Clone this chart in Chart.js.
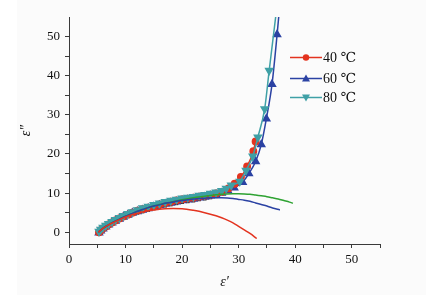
<!DOCTYPE html>
<html><head><meta charset="utf-8">
<script src="https://cdn.jsdelivr.net/npm/chart.js@4/dist/chart.umd.min.js"></script>
<style>html,body{margin:0;padding:0;background:#fff}canvas{display:block}</style>
</head><body>
<canvas id="c" width="426" height="295"></canvas>
<script>
// ---- data ----
const legendLabels = ['40 ℃', '60 ℃', '80 ℃'];
const xTickValues = [0,5,10,15,20,25,30,35,40,45,50,55];
const yTickValues = [0,5,10,15,20,25,30,35,40,45,50];

const eps1_40 = [5.3,5.6,6.0,6.5,7.0,7.6,8.2,8.9,9.6,10.4,11.2,12.1,13.0,14.0,15.0,16.0,17.0,18.0,19.0,20.0,21.0,22.0,23.0,24.0,25.0,26.0,27.0,28.2,29.3,30.4,31.5,32.6,33.0];
const eps2_40 = [0.0,0.5,1.0,1.5,2.0,2.5,3.0,3.5,4.0,4.5,5.0,5.5,5.9,6.3,6.7,7.1,7.5,7.8,8.1,8.4,8.6,8.8,9.1,9.3,9.6,9.9,10.3,11.2,12.4,14.1,16.8,20.7,23.2];

const eps1_60 = [5.3,5.6,6.0,6.5,7.0,7.6,8.2,8.9,9.6,10.4,11.2,12.1,13.0,14.0,15.0,16.0,17.0,18.0,19.0,20.0,21.0,22.0,23.0,24.0,25.0,26.0,27.0,28.1,29.2,30.7,31.8,33.0,34.0,34.9,35.9,36.8,37.4];
const eps2_60 = [-0.1,0.4,0.9,1.4,1.9,2.4,2.9,3.4,3.9,4.4,4.9,5.3,5.7,6.1,6.5,6.9,7.2,7.5,7.8,8.1,8.3,8.5,8.8,9.0,9.3,9.6,10.0,10.6,11.4,12.8,15.0,18.1,22.4,29.0,37.8,50.5,60.0];

const eps1_80 = [5.3,5.6,6.0,6.5,7.0,7.6,8.2,8.9,9.6,10.4,11.2,12.1,13.0,14.0,15.0,16.0,17.0,18.0,19.0,20.0,21.0,22.0,23.0,24.0,25.0,26.0,27.0,27.8,28.7,30.2,31.3,32.5,33.4,34.6,35.4,36.8];
const eps2_80 = [0.2,0.7,1.2,1.7,2.2,2.7,3.2,3.7,4.2,4.7,5.2,5.7,6.2,6.6,7.0,7.4,7.8,8.1,8.4,8.7,8.9,9.1,9.4,9.6,9.9,10.2,10.6,11.2,12.0,13.0,15.8,19.4,24.3,31.5,41.3,58.0];

const eps1_extra = [12,13,14,15,16,17,18,19,20,21,22,23,24,25,26];
const eps2_extra = [4.9,5.3,5.7,6.1,6.5,6.8,7.1,7.4,7.7,7.9,8.1,8.4,8.6,8.9,9.2];

const fit1_40 = [5.2,6,7,8,9,10,11,12,13,14,15,16,17,18.4,20,22,24,26,27,28,29,30,31,32,33.2];
const fit2_40 = [0,1.0,1.9,2.6,3.3,3.9,4.4,4.8,5.2,5.5,5.7,5.9,6.0,6.05,6.0,5.6,5.0,4.2,3.7,3.1,2.4,1.5,0.6,-0.3,-1.6];

const fit1_60 = [5.2,6,7,8,9,10,11,12,13,14,15,16,17,18,19,20,21,22,23,24,25,26,27,28,29,30,31,32,33,34,35,36,37.3];
const fit2_60 = [0,1.0,1.9,2.7,3.4,4.1,4.7,5.3,5.8,6.3,6.7,7.0,7.4,7.6,7.9,8.1,8.3,8.5,8.6,8.7,8.8,8.8,8.8,8.75,8.6,8.4,8.2,7.9,7.5,7.1,6.7,6.2,5.7];

const fit1_80 = [5.2,6,7,8,9,10,11,12,13,14,15,16,17,18,19,20,22,24,26,27,28,29,30,31,32,33,34,35,36,37,38,39,39.6];
const fit2_80 = [0,1.0,1.9,2.7,3.4,4.1,4.7,5.3,5.8,6.3,6.7,7.1,7.4,7.7,8.0,8.3,8.8,9.2,9.6,9.7,9.8,9.85,9.85,9.8,9.7,9.5,9.3,9.1,8.8,8.5,8.1,7.7,7.4];

// ---- colours / styles ----
const RED = '#e3331f', BLUE = '#2b42a3', TEAL = '#3fa0a6', GREEN = '#2ea232';
const toXY = (xs, ys) => xs.map((x, i) => ({x, y: ys[i]}));
const SERIF = "'Liberation Serif','DejaVu Serif',serif";

const fitStyle = c => ({borderColor: c, backgroundColor: c, borderWidth: 1.5, pointRadius: 0, cubicInterpolationMode: 'monotone', showLine: true});

const datasets = [
  Object.assign({label: 'fit40', data: toXY(fit1_40, fit2_40)}, fitStyle(RED)),
  Object.assign({label: 'fit60', data: toXY(fit1_60, fit2_60)}, fitStyle(BLUE)),
  Object.assign({label: 'fit80', data: toXY(fit1_80, fit2_80)}, fitStyle(GREEN)),
  {label: legendLabels[2], data: toXY(eps1_80, eps2_80), borderColor: TEAL, backgroundColor: TEAL, borderWidth: 1.5,
   pointStyle: 'triangle', rotation: 180, pointRadius: 4, showLine: true, cubicInterpolationMode: 'monotone'},
  {label: legendLabels[0], data: toXY(eps1_40, eps2_40), borderColor: RED, backgroundColor: RED, borderWidth: 1.5,
   pointStyle: 'circle', pointRadius: 3.2, showLine: true, cubicInterpolationMode: 'monotone'},
  {label: legendLabels[1], data: toXY(eps1_60, eps2_60), borderColor: BLUE, backgroundColor: BLUE, borderWidth: 1.5,
   pointStyle: 'triangle', pointRadius: 4, showLine: true, cubicInterpolationMode: 'monotone'},
  {label: 'extra', data: toXY(eps1_extra, eps2_extra), borderColor: '#111', backgroundColor: '#111', borderWidth: 0,
   pointStyle: 'rect', pointRadius: 2.6, showLine: false}
];

const bgPlugin = {
  id: 'bg',
  beforeDraw(chart) {
    const ctx = chart.ctx;
    ctx.save();
    ctx.fillStyle = '#ffffff';
    ctx.fillRect(0, 0, chart.width, chart.height);
    ctx.fillStyle = '#fbfbfb';
    ctx.fillRect(17, 0, chart.width - 17, chart.height);
    ctx.restore();
  }
};

const legendRows = [
  {label: legendLabels[0], color: RED, style: 'circle'},
  {label: legendLabels[1], color: BLUE, style: 'tri'},
  {label: legendLabels[2], color: TEAL, style: 'tridown'}
];
const legendPlugin = {
  id: 'customLegend',
  afterDatasetsDraw(chart) {
    const ctx = chart.ctx;
    const x0 = 290, x1 = 322, ys = [57.5, 78.5, 97.5];
    ctx.save();
    legendRows.forEach((r, i) => {
      const y = ys[i];
      ctx.strokeStyle = r.color; ctx.fillStyle = r.color; ctx.lineWidth = 1.5;
      ctx.beginPath(); ctx.moveTo(x0, y); ctx.lineTo(x1, y); ctx.stroke();
      const cx = (x0 + x1) / 2;
      ctx.beginPath();
      if (r.style === 'circle') { ctx.arc(cx, y, 3.2, 0, Math.PI * 2); }
      else if (r.style === 'tri') { ctx.moveTo(cx, y - 4); ctx.lineTo(cx + 4, y + 3); ctx.lineTo(cx - 4, y + 3); ctx.closePath(); }
      else { ctx.moveTo(cx, y + 4); ctx.lineTo(cx + 4, y - 3); ctx.lineTo(cx - 4, y - 3); ctx.closePath(); }
      ctx.fill();
      ctx.fillStyle = '#111';
      ctx.font = '14px ' + SERIF;
      ctx.textBaseline = 'middle';
      ctx.textAlign = 'left';
      ctx.fillText(r.label, x1 + 1, y + 1);
    });
    ctx.restore();
  }
};

const axisColor = '#3a3a3a';
new Chart(document.getElementById('c'), {
  type: 'scatter',
  data: {datasets},
  plugins: [bgPlugin, legendPlugin],
  options: {
    responsive: false,
    animation: false,
    devicePixelRatio: 1,
    layout: {padding: {top: 17, right: 46, left: 0, bottom: 0}},
    plugins: {legend: {display: false}, tooltip: {enabled: false}},
    scales: {
      x: {
        type: 'linear', min: 0, max: 55,
        afterBuildTicks: s => { s.ticks = xTickValues.map(v => ({value: v})); },
        afterFit: s => { s.height = 51; },
        ticks: {autoSkip: false, maxRotation: 0, padding: 4, color: '#111',
                font: {family: SERIF, size: 13},
                callback: v => (v % 10 === 0 ? String(v) : '')},
        grid: {display: true, drawOnChartArea: false, drawTicks: true, tickLength: 4, color: axisColor},
        border: {display: true, color: axisColor, width: 1},
        title: {display: true, text: 'ε′', color: '#111', font: {family: SERIF, size: 14, style: 'italic'}, padding: {top: 0, bottom: 4}}
      },
      y: {
        type: 'linear', min: -3, max: 55,
        afterBuildTicks: s => { s.ticks = yTickValues.map(v => ({value: v})); },
        afterFit: s => { s.width = 69; },
        ticks: {autoSkip: false, padding: 5, color: '#111',
                font: {family: SERIF, size: 13},
                callback: v => (v % 10 === 0 ? String(v) : '')},
        grid: {display: true, drawOnChartArea: false, drawTicks: true, tickLength: 4, color: axisColor},
        border: {display: true, color: axisColor, width: 1},
        title: {display: true, text: 'ε″', color: '#111', font: {family: SERIF, size: 14, style: 'italic'}, padding: {top: 18, bottom: 0}}
      }
    }
  }
});
</script>
</body></html>
